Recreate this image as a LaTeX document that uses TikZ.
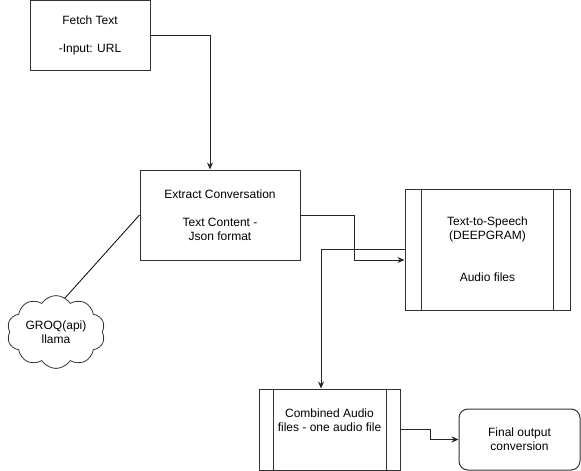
\documentclass[tikz,border=0pt]{standalone}
\usepackage{fontspec}
\setmainfont{Liberation Sans}
\usetikzlibrary{shapes.symbols,arrows.meta}
\tikzstyle{bx}=[rectangle,draw=black!80,line width=1pt,inner sep=0pt,align=center]
\tikzstyle{cl}=[cloud,cloud puffs=10,cloud puff arc=115,aspect=1.4,draw=black!80,line width=0.8pt,inner sep=0pt,align=center]
\tikzstyle{ar}=[draw=black!85,line width=1pt,-{Stealth[length=7pt,width=6pt]}]

\begin{document}
\begin{tikzpicture}[x=1pt,y=-1pt,font=\fontsize{12}{14}\selectfont]
\useasboundingbox (0,0) rectangle (581,471);
\node[bx,minimum width=120pt,minimum height=70pt] (fetch) at (90,35) {Fetch Text\\[14pt]-Input: URL};
\node[bx,minimum width=160pt,minimum height=90pt] (extract) at (220,215) {Extract Conversation\\[14pt]Text Content -\\Json format};
\node[bx,minimum width=165pt,minimum height=121pt] (tts) at (487.5,249.5) {Text-to-Speech\\(DEEPGRAM)\\[28pt]Audio files};
\node[bx,minimum width=141pt,minimum height=81pt] (comb) at (329.5,429.5) {Combined Audio\\files - one audio file\\\strut};
\node[bx,rounded corners=9pt,minimum width=121pt,minimum height=61pt] (final) at (519.5,439.5) {Final output\\conversion};
\node[cl,minimum width=98pt,minimum height=70pt] (groq) at (56,332) {GROQ(api)\\llama};
\draw[draw=black!80,line width=1pt] ([xshift=17pt]tts.north west) -- ([xshift=17pt]tts.south west);
\draw[draw=black!80,line width=1pt] ([xshift=-17pt]tts.north east) -- ([xshift=-17pt]tts.south east);
\draw[draw=black!80,line width=1pt] ([xshift=15pt]comb.north west) -- ([xshift=15pt]comb.south west);
\draw[draw=black!80,line width=1pt] ([xshift=-14pt]comb.north east) -- ([xshift=-14pt]comb.south east);
\draw[ar] (fetch.east) -| ([xshift=-10pt]extract.north);
\draw[ar] (extract.east) -- ++(54,0) |- ([yshift=-10.5pt]tts.west);
\draw[ar] (tts.west) -| ([xshift=-8.5pt]comb.north);
\draw[ar] (comb.east) -- ++(30,0) |- (final.west);
\draw[draw=black,line width=0.8pt] (extract.west) -- ([shift={(9,-34)}]groq.center);
\end{tikzpicture}
\end{document}
